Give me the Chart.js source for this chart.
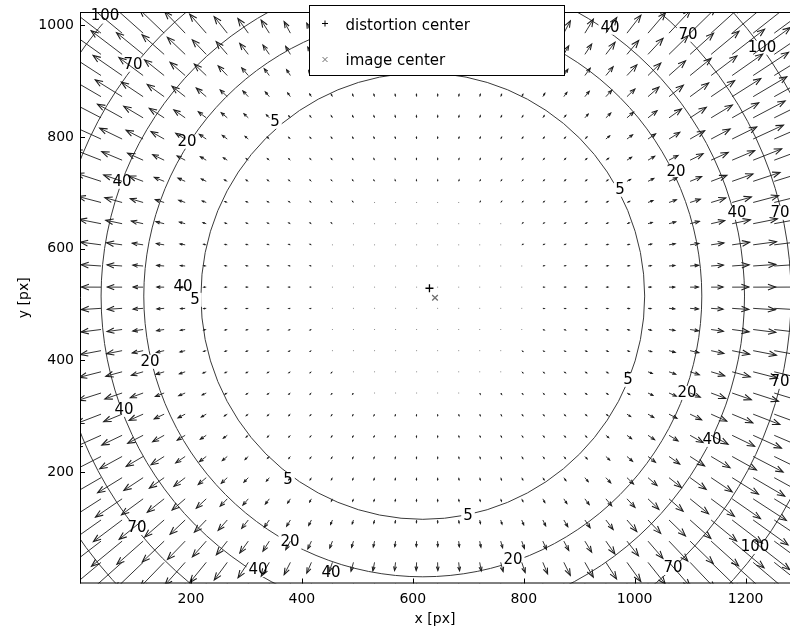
<!DOCTYPE html>
<html>
<head>
<meta charset="utf-8">
<script src="https://cdn.jsdelivr.net/npm/chart.js@4.4.1/dist/chart.umd.min.js"></script>
<style>
  html, body { margin: 0; padding: 0; background: #ffffff; }
  #wrap { width: 790px; height: 632px; }
</style>
</head>
<body>
<div id="wrap"><canvas id="chart" width="790" height="632"></canvas></div>
<script>
// Axis ticks (pixel coordinates of a 1280 x 1024 sensor)
const xTicks = [200, 400, 600, 800, 1000, 1200];
const yTicks = [200, 400, 600, 800, 1000];

// Sample grid of the displacement field
const gridX = [0, 37.9, 75.9, 113.8, 151.7, 189.6, 227.6, 265.5, 303.4, 341.3, 379.3, 417.2,
  455.1, 493.0, 531.0, 568.9, 606.8, 644.7, 682.7, 720.6, 758.5, 796.4, 834.4, 872.3,
  910.2, 948.1, 986.1, 1024.0, 1061.9, 1099.9, 1137.8, 1175.7, 1213.6, 1251.6];
const gridY = [0, 37.9, 75.9, 113.8, 151.7, 189.6, 227.6, 265.5, 303.4, 341.3, 379.3, 417.2,
  455.1, 493.0, 531.0, 568.9, 606.8, 644.7, 682.7, 720.6, 758.5, 796.4, 834.4, 872.3,
  910.2, 948.1, 986.1, 1024.0];

// Centres
const distortionCenter = [630, 529];
const imageCenter = [640, 512];

// Iso-lines of the displacement magnitude [px] and their radii
const contourLevels = [5, 20, 40, 70, 100];
const contourRadius = [400, 503, 580, 664, 756];
const contourCenter = [618, 515];

// Inline contour labels
const labelText = ['100', '70', '5', '20', '40', '40', '5', '20', '40', '5', '70', '20', '40', '40', '5',
  '20', '70', '100', '40', '20', '5', '70', '5', '20', '40', '70', '40', '70', '100'];
const labelX = [45, 95.5, 351.5, 192.9, 75.7, 185.7, 207.3, 126.2, 79.3, 375, 102.8, 378.6, 320.9, 452.5, 699.5,
  780.6, 1069, 1216.9, 1139.4, 1094.3, 987.9, 1262, 973.5, 1074.5, 1184.4, 1262, 955.5, 1096, 1229.5];
const labelY = [1015.8, 929.5, 827.3, 791.5, 719.8, 531.6, 508.3, 397.2, 311.1, 185.6, 99.5, 74.4, 24.2, 18.8, 121,
  42.1, 27.8, 65.5, 257.3, 341.5, 364.9, 361.3, 705.5, 737.7, 664.2, 664.2, 995.9, 983.3, 960];

// Arrow length in data units per pixel of displacement
const arrowScale = 0.88;

const FONT = 'DejaVu Sans';

function magnitudeAt(r) {
  const rs = [0].concat(contourRadius);
  const ls = [0].concat(contourLevels);
  for (let i = 1; i < rs.length; i++) {
    if (r <= rs[i]) {
      return ls[i - 1] + (ls[i] - ls[i - 1]) * (r - rs[i - 1]) / (rs[i] - rs[i - 1]);
    }
  }
  const n = rs.length - 1;
  return ls[n] + (ls[n] - ls[n - 1]) * (r - rs[n]) / (rs[n] - rs[n - 1]);
}

function clipToArea(ctx, a) {
  ctx.beginPath();
  ctx.rect(a.left, a.top, a.right - a.left, a.bottom - a.top);
  ctx.clip();
}

const fieldPlugin = {
  id: 'field',
  beforeDatasetsDraw(chart) {
    const { ctx, chartArea: a, scales: { x: xs, y: ys } } = chart;
    ctx.save();
    clipToArea(ctx, a);

    // contour lines
    ctx.strokeStyle = '#3a3a3a';
    ctx.lineWidth = 1;
    const cxp = xs.getPixelForValue(contourCenter[0]);
    const cyp = ys.getPixelForValue(contourCenter[1]);
    contourRadius.forEach(r => {
      const rx = xs.getPixelForValue(contourCenter[0] + r) - cxp;
      const ry = cyp - ys.getPixelForValue(contourCenter[1] + r);
      ctx.beginPath();
      ctx.ellipse(cxp, cyp, rx, ry, 0, 0, Math.PI * 2);
      ctx.stroke();
    });

    // gaps in the contour lines where the labels sit
    ctx.font = '15px "' + FONT + '"';
    ctx.fillStyle = '#fff';
    labelText.forEach((t, i) => {
      const w = ctx.measureText(t).width + 4;
      const px = xs.getPixelForValue(labelX[i]), py = ys.getPixelForValue(labelY[i]);
      ctx.fillRect(px - w / 2, py - 7, w, 14);
    });

    // displacement arrows
    gridY.forEach(gy => {
      gridX.forEach(gx => {
        const dx = gx - distortionCenter[0];
        const dy = gy - distortionCenter[1];
        const d = Math.hypot(dx, dy) || 1;
        const r = Math.hypot(gx - contourCenter[0], gy - contourCenter[1]);
        const m = magnitudeAt(r) * arrowScale;
        const x0 = xs.getPixelForValue(gx), y0 = ys.getPixelForValue(gy);
        const x1 = xs.getPixelForValue(gx + dx / d * m), y1 = ys.getPixelForValue(gy + dy / d * m);
        const len = Math.hypot(x1 - x0, y1 - y0);
        if (len < 1.2) {
          ctx.fillStyle = '#8c8c8c';
          ctx.fillRect(x0 - 0.5, y0 - 0.5, 1, 1);
          return;
        }
        const ang = Math.atan2(y1 - y0, x1 - x0);
        const hl = Math.min(8, len * 0.5);
        const hw = 0.36;
        ctx.strokeStyle = '#1e1e1e';
        ctx.lineWidth = 0.9;
        ctx.beginPath();
        ctx.moveTo(x0, y0);
        ctx.lineTo(x1, y1);
        ctx.stroke();
        ctx.lineWidth = 1.1;
        ctx.beginPath();
        ctx.moveTo(x1 - hl * Math.cos(ang - hw), y1 - hl * Math.sin(ang - hw));
        ctx.lineTo(x1, y1);
        ctx.lineTo(x1 - hl * Math.cos(ang + hw), y1 - hl * Math.sin(ang + hw));
        ctx.stroke();
      });
    });
    ctx.restore();
  },
  afterDatasetsDraw(chart) {
    const { ctx, chartArea: a, scales: { x: xs, y: ys } } = chart;
    ctx.save();
    // contour labels
    ctx.fillStyle = '#000';
    ctx.font = '15px "' + FONT + '"';
    ctx.textAlign = 'center';
    ctx.textBaseline = 'middle';
    labelText.forEach((t, i) => {
      ctx.fillText(t, xs.getPixelForValue(labelX[i]), ys.getPixelForValue(labelY[i]));
    });

    // frame and inward ticks
    ctx.strokeStyle = '#000';
    ctx.lineWidth = 1;
    ctx.beginPath();
    ctx.moveTo(a.left + 0.5, a.top);
    ctx.lineTo(a.left + 0.5, a.bottom);
    ctx.moveTo(a.left, a.bottom - 0.5);
    ctx.lineTo(a.right, a.bottom - 0.5);
    ctx.moveTo(a.left, a.top + 0.5);
    ctx.lineTo(a.right, a.top + 0.5);
    xTicks.forEach(v => {
      const p = Math.round(xs.getPixelForValue(v)) + 0.5;
      ctx.moveTo(p, a.bottom);
      ctx.lineTo(p, a.bottom - 5);
    });
    yTicks.forEach(v => {
      const p = Math.round(ys.getPixelForValue(v)) + 0.5;
      ctx.moveTo(a.left, p);
      ctx.lineTo(a.left + 5, p);
    });
    ctx.stroke();

    // legend
    const lx = 309.5, ly = 5.5, lw = 255, lh = 70;
    ctx.fillStyle = '#fff';
    ctx.fillRect(lx, ly, lw, lh);
    ctx.strokeStyle = '#000';
    ctx.strokeRect(lx, ly, lw, lh);
    ctx.font = '15px "' + FONT + '"';
    ctx.textAlign = 'left';
    ctx.textBaseline = 'alphabetic';
    ctx.fillStyle = '#000';
    chart.data.datasets.forEach((ds, i) => {
      const my = i === 0 ? 23.5 : 59.5;
      const by = i === 0 ? 29.5 : 65;
      ctx.strokeStyle = ds.borderColor;
      ctx.lineWidth = 1;
      ctx.beginPath();
      if (i === 0) {
        ctx.moveTo(322, my); ctx.lineTo(328, my);
        ctx.moveTo(325, my - 3); ctx.lineTo(325, my + 3);
      } else {
        ctx.moveTo(322.5, my - 2.5); ctx.lineTo(327.5, my + 2.5);
        ctx.moveTo(322.5, my + 2.5); ctx.lineTo(327.5, my - 2.5);
      }
      ctx.stroke();
      ctx.fillText(ds.label, 345.5, by);
    });
    ctx.restore();
  }
};

const plainTick = v => String(v);

new Chart(document.getElementById('chart'), {
  type: 'scatter',
  data: {
    datasets: [
      {
        label: 'distortion center',
        data: [{ x: distortionCenter[0], y: distortionCenter[1] }],
        pointStyle: 'cross', pointRadius: 4, borderColor: '#000', borderWidth: 1.3, backgroundColor: '#000'
      },
      {
        label: 'image center',
        data: [{ x: imageCenter[0], y: imageCenter[1] }],
        pointStyle: 'crossRot', pointRadius: 4, borderColor: '#6f6f6f', borderWidth: 1.3, backgroundColor: '#6f6f6f'
      }
    ]
  },
  options: {
    responsive: false,
    animation: false,
    devicePixelRatio: 1,
    layout: { autoPadding: false, padding: { top: 12, right: 0, left: 0, bottom: 0 } },
    plugins: { legend: { display: false }, tooltip: { enabled: false } },
    scales: {
      x: {
        type: 'linear', min: 0, max: 1280,
        afterBuildTicks: s => { s.ticks = xTicks.map(v => ({ value: v })); },
        afterFit: s => { s.height = 48.5; s.paddingLeft = 0; s.paddingRight = 0; },
        grid: { display: false, drawTicks: false },
        border: { display: false },
        ticks: { color: '#000', font: { family: FONT, size: 14 }, padding: 7, maxRotation: 0, autoSkip: false, callback: plainTick },
        title: { display: true, text: 'x [px]', color: '#000', font: { family: FONT, size: 14 }, padding: { top: 0, bottom: 4.5 } }
      },
      y: {
        type: 'linear', min: 0, max: 1024,
        afterBuildTicks: s => { s.ticks = yTicks.map(v => ({ value: v })); },
        afterFit: s => { s.width = 80; s.paddingTop = 0; s.paddingBottom = 0; },
        grid: { display: false, drawTicks: false },
        border: { display: false },
        ticks: { color: '#000', font: { family: FONT, size: 14 }, padding: 6, autoSkip: false, callback: plainTick },
        title: { display: true, text: 'y [px]', color: '#000', font: { family: FONT, size: 14 }, padding: { top: 15.5, bottom: 0 } }
      }
    }
  },
  plugins: [fieldPlugin]
});
</script>
</body>
</html>
